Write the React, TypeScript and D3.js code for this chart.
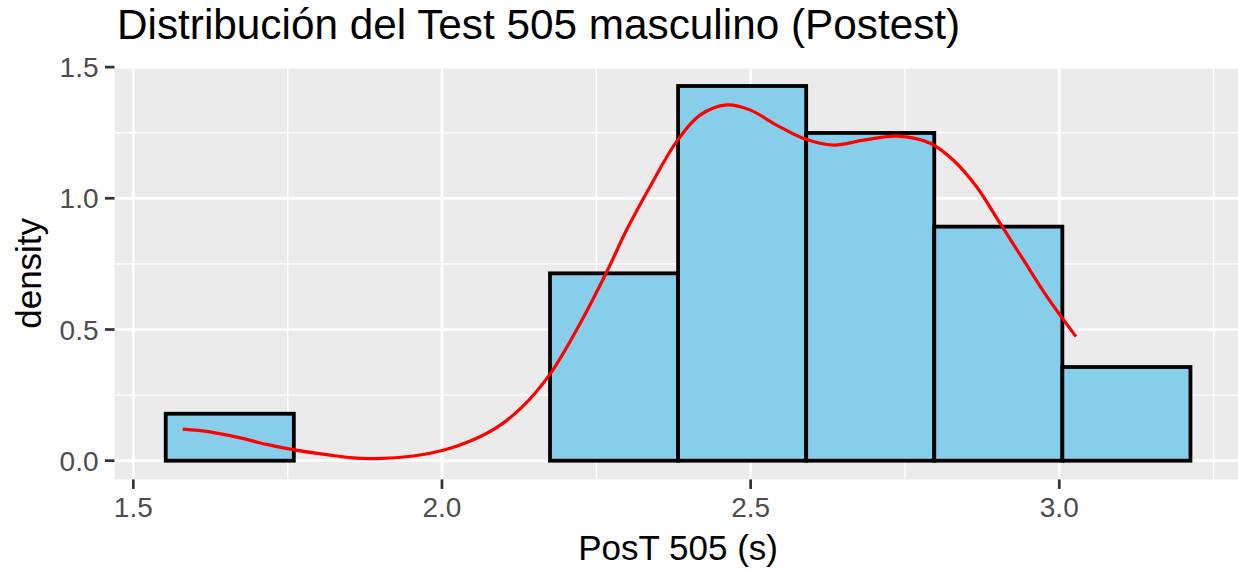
import * as d3 from "d3";
import { useEffect, useRef } from "react";

// Histogram bins (PosT 505, seconds) and their densities
const binEdges = [1.5525, 1.76, 1.9675, 2.175, 2.3825, 2.59, 2.7975, 3.005, 3.2125];
const binDensity = [0.179, 0, 0, 0.714, 1.428, 1.249, 0.892, 0.357];

// Kernel density curve
const densityX = [
  1.58, 1.624, 1.673, 1.716, 1.761, 1.819, 1.851, 1.894, 1.954, 2.002, 2.045, 2.089, 2.13,
  2.175, 2.224, 2.267, 2.299, 2.337, 2.38, 2.418, 2.461, 2.499, 2.542, 2.585, 2.634, 2.683,
  2.737, 2.791, 2.828, 2.866, 2.904, 2.942, 2.98, 3.027,
];
const densityY = [
  0.12, 0.11, 0.087, 0.062, 0.041, 0.021, 0.012, 0.008, 0.018, 0.04, 0.074, 0.127, 0.205,
  0.33, 0.524, 0.72, 0.879, 1.044, 1.216, 1.317, 1.356, 1.337, 1.279, 1.229, 1.203, 1.222,
  1.237, 1.21, 1.146, 1.044, 0.905, 0.765, 0.625, 0.473,
];

const xTicks = [1.5, 2.0, 2.5, 3.0];
const xMinor = [1.75, 2.25, 2.75, 3.25];
const yTicks = [0, 0.5, 1.0, 1.5];
const yMinor = [0.25, 0.75, 1.25];

const titleText = "Distribución del Test 505 masculino (Postest)";
const xLabel = "PosT 505 (s)";
const yLabel = "density";

const App: React.FC = () => {
  const ref = useRef<SVGSVGElement>(null);

  const width = 1238;
  const height = 571;
  const font = "'Liberation Sans', Arial, Helvetica, sans-serif";

  useEffect(() => {
    if (!ref.current) return;
    const svg = d3.select(ref.current);
    svg.selectAll("*").remove();

    // ggplot style 5% expansion on both scales
    const xLo = binEdges[0];
    const xHi = binEdges[binEdges.length - 1];
    const xPad = (xHi - xLo) * 0.05;
    const yMax = d3.max(binDensity) as number;
    const yPad = yMax * 0.05;

    const left = 114.5;
    const pxPerX = 617.3;
    const x = d3
      .scaleLinear()
      .domain([xLo - xPad, xHi + xPad])
      .range([left, left + (xHi - xLo + 2 * xPad) * pxPerX]);

    const y = d3.scaleLinear().domain([0, 1.5]).range([460.7, 67.1]);

    const panelTop = y(yMax + yPad);
    const panelBottom = y(-yPad);
    const [px0, px1] = x.range();

    // panel background
    svg
      .append("rect")
      .attr("x", px0)
      .attr("y", panelTop)
      .attr("width", px1 - px0)
      .attr("height", panelBottom - panelTop)
      .attr("fill", "#EBEBEB");

    const grid = svg.append("g").attr("stroke", "white");
    grid
      .selectAll("line.ymin")
      .data(yMinor)
      .enter()
      .append("line")
      .attr("x1", px0)
      .attr("x2", px1)
      .attr("y1", (d) => y(d))
      .attr("y2", (d) => y(d))
      .attr("stroke-width", 1.4);
    grid
      .selectAll("line.xmin")
      .data(xMinor)
      .enter()
      .append("line")
      .attr("x1", (d) => x(d))
      .attr("x2", (d) => x(d))
      .attr("y1", panelTop)
      .attr("y2", panelBottom)
      .attr("stroke-width", 1.4);
    grid
      .selectAll("line.ymaj")
      .data(yTicks)
      .enter()
      .append("line")
      .attr("x1", px0)
      .attr("x2", px1)
      .attr("y1", (d) => y(d))
      .attr("y2", (d) => y(d))
      .attr("stroke-width", 2.7);
    grid
      .selectAll("line.xmaj")
      .data(xTicks)
      .enter()
      .append("line")
      .attr("x1", (d) => x(d))
      .attr("x2", (d) => x(d))
      .attr("y1", panelTop)
      .attr("y2", panelBottom)
      .attr("stroke-width", 2.7);

    // histogram bars
    svg
      .append("g")
      .selectAll("rect")
      .data(binDensity)
      .enter()
      .append("rect")
      .attr("x", (_d, i) => x(binEdges[i]))
      .attr("width", (_d, i) => x(binEdges[i + 1]) - x(binEdges[i]))
      .attr("y", (d) => y(d))
      .attr("height", (d) => y(0) - y(d))
      .attr("fill", "#87CEEB")
      .attr("stroke", "black")
      .attr("stroke-width", 3.8);

    // density curve
    const pts: [number, number][] = densityX.map((d, i) => [d, densityY[i]]);
    const line = d3
      .line<[number, number]>()
      .x((d) => x(d[0]))
      .y((d) => y(d[1]))
      .curve(d3.curveCatmullRom.alpha(0.5));
    svg
      .append("path")
      .attr("d", line(pts))
      .attr("fill", "none")
      .attr("stroke", "#FF0000")
      .attr("stroke-width", 3.2);

    // axes ticks
    const axes = svg.append("g").attr("stroke", "#333333").attr("stroke-width", 2.7);
    axes
      .selectAll("line.yt")
      .data(yTicks)
      .enter()
      .append("line")
      .attr("x1", px0 - 9.5)
      .attr("x2", px0)
      .attr("y1", (d) => y(d))
      .attr("y2", (d) => y(d));
    axes
      .selectAll("line.xt")
      .data(xTicks)
      .enter()
      .append("line")
      .attr("x1", (d) => x(d))
      .attr("x2", (d) => x(d))
      .attr("y1", panelBottom)
      .attr("y2", panelBottom + 9.5);

    const labels = svg.append("g").attr("font-family", font);
    labels
      .selectAll("text.yl")
      .data(yTicks)
      .enter()
      .append("text")
      .attr("x", 98.5)
      .attr("y", (d) => y(d))
      .attr("dy", "0.36em")
      .attr("text-anchor", "end")
      .attr("font-size", 28)
      .attr("fill", "#4D4D4D")
      .text((d) => d3.format(".1f")(d));
    labels
      .selectAll("text.xl")
      .data(xTicks)
      .enter()
      .append("text")
      .attr("x", (d) => x(d))
      .attr("y", 516.5)
      .attr("text-anchor", "middle")
      .attr("font-size", 28)
      .attr("fill", "#4D4D4D")
      .text((d) => d3.format(".1f")(d));

    labels
      .append("text")
      .attr("x", (px0 + px1) / 2)
      .attr("y", 560)
      .attr("text-anchor", "middle")
      .attr("font-size", 35)
      .attr("fill", "black")
      .text(xLabel);
    labels
      .append("text")
      .attr("transform", `translate(41, ${(panelTop + panelBottom) / 2}) rotate(-90)`)
      .attr("text-anchor", "middle")
      .attr("font-size", 35)
      .attr("fill", "black")
      .text(yLabel);
    labels
      .append("text")
      .attr("x", 117)
      .attr("y", 38.5)
      .attr("font-size", 42.3)
      .attr("fill", "black")
      .text(titleText);
  }, []);

  return (
    <svg
      ref={ref}
      width={width}
      height={height}
      style={{ position: "absolute", left: 0, top: 0, background: "white" }}
    ></svg>
  );
};

export default App;
